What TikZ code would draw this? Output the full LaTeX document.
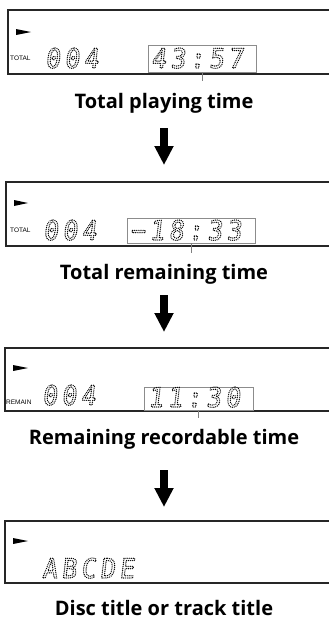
\documentclass[tikz,border=0pt]{standalone}
\usepackage{fontspec}
\setmainfont{Open Sans}
\newfontfamily\lcdfont{DejaVu Sans Mono}[LetterSpace=16, FakeSlant=0.12, FakeStretch=0.92]
\newfontfamily\tagfont{Liberation Sans}
\usetikzlibrary{arrows.meta}
\newcommand\lcdtext[1]{\special{pdf:literal direct 1 Tr 1.35 w 1 J 1 j [0 1.9] 0 d}#1\special{pdf:literal direct 0 Tr [] 0 d}}
\begin{document}
\begin{tikzpicture}[x=1pt,y=-1pt,
  panel/.style={draw=black!85, line width=1.2pt},
  tbox/.style={draw=black!45, line width=0.9pt, inner sep=0pt},
  tickline/.style={draw=black!50, line width=0.8pt},
  lcd/.style={inner sep=0pt, text=black, font=\lcdfont\fontsize{27}{27}\selectfont},
  tagst/.style={inner sep=0pt, font=\tagfont\fontsize{6.5}{7}\selectfont},
  lab/.style={inner sep=0pt, anchor=base, font=\bfseries\fontsize{20}{22}\selectfont},
  bigarrow/.style={line width=8pt, -{Triangle[width=18pt,length=19pt]}},
  playicon/.style={fill=black}]
\useasboundingbox (0,0) rectangle (329,622);

% ---- panel 1
\draw[panel] (329,10) -| (8,74) -- (329,74);
\fill[playicon] (16,29) -- (31,32) -- (16,35) -- cycle;
\node[tagst, anchor=base west] (tag1) at (10,60) {TOTAL};
\node[lcd, anchor=base west] (d1) at (45,68) {\lcdtext{004}};
\node[tbox, minimum width=108pt, minimum height=27pt] (b1) at (202,58.5) {};
\node[lcd, anchor=base west] (t1) at (151,68) {\lcdtext{43:57}};
\coordinate (k1) at (202,81);
\draw[tickline] (b1.south) -- (k1);
\node[lab] (l1) at (164,108) {Total playing time};
\coordinate (a1s) at (164,128);
\coordinate (a1e) at (164,165);
\draw[bigarrow] (a1s) -- (a1e);

% ---- panel 2
\draw[panel] (329,182) -| (6,246) -- (329,246);
\fill[playicon] (14,200) -- (28,203) -- (14,206) -- cycle;
\node[tagst, anchor=base west] (tag2) at (10,232) {TOTAL};
\node[lcd, anchor=base west] (d2) at (43,240) {\lcdtext{004}};
\node[tbox, minimum width=128pt, minimum height=25pt] (b2) at (191,230.5) {};
\node[lcd, anchor=base west] (t2) at (130,240) {\lcdtext{−18:33}};
\coordinate (k2) at (191,253);
\draw[tickline] (b2.south) -- (k2);
\node[lab] (l2) at (164,279) {Total remaining time};
\coordinate (a2s) at (164,295);
\coordinate (a2e) at (164,332);
\draw[bigarrow] (a2s) -- (a2e);

% ---- panel 3
\draw[panel] (329,348) -| (5,411) -- (329,411);
\fill[playicon] (13,365) -- (28,368) -- (13,371) -- cycle;
\node[tagst, anchor=base west] (tag3) at (6,404) {REMAIN};
\node[lcd, anchor=base west] (d3) at (42,405) {\lcdtext{004}};
\node[tbox, minimum width=109pt, minimum height=23pt] (b3) at (198.5,398.5) {};
\node[lcd, anchor=base west] (t3) at (148,407) {\lcdtext{11:30}};
\coordinate (k3) at (198.5,418);
\draw[tickline] (b3.south) -- (k3);
\node[lab] (l3) at (164,444) {Remaining recordable time};
\coordinate (a3s) at (164,470);
\coordinate (a3e) at (164,507);
\draw[bigarrow] (a3s) -- (a3e);

% ---- panel 4
\draw[panel] (329,521) -| (5,583) -- (329,583);
\fill[playicon] (13,538) -- (28,541) -- (13,544) -- cycle;
\node[lcd, anchor=base west] (d4) at (42,578) {\lcdtext{ABCDE}};
\node[lab] (l4) at (164,615) {Disc title or track title};
\end{tikzpicture}
\end{document}
